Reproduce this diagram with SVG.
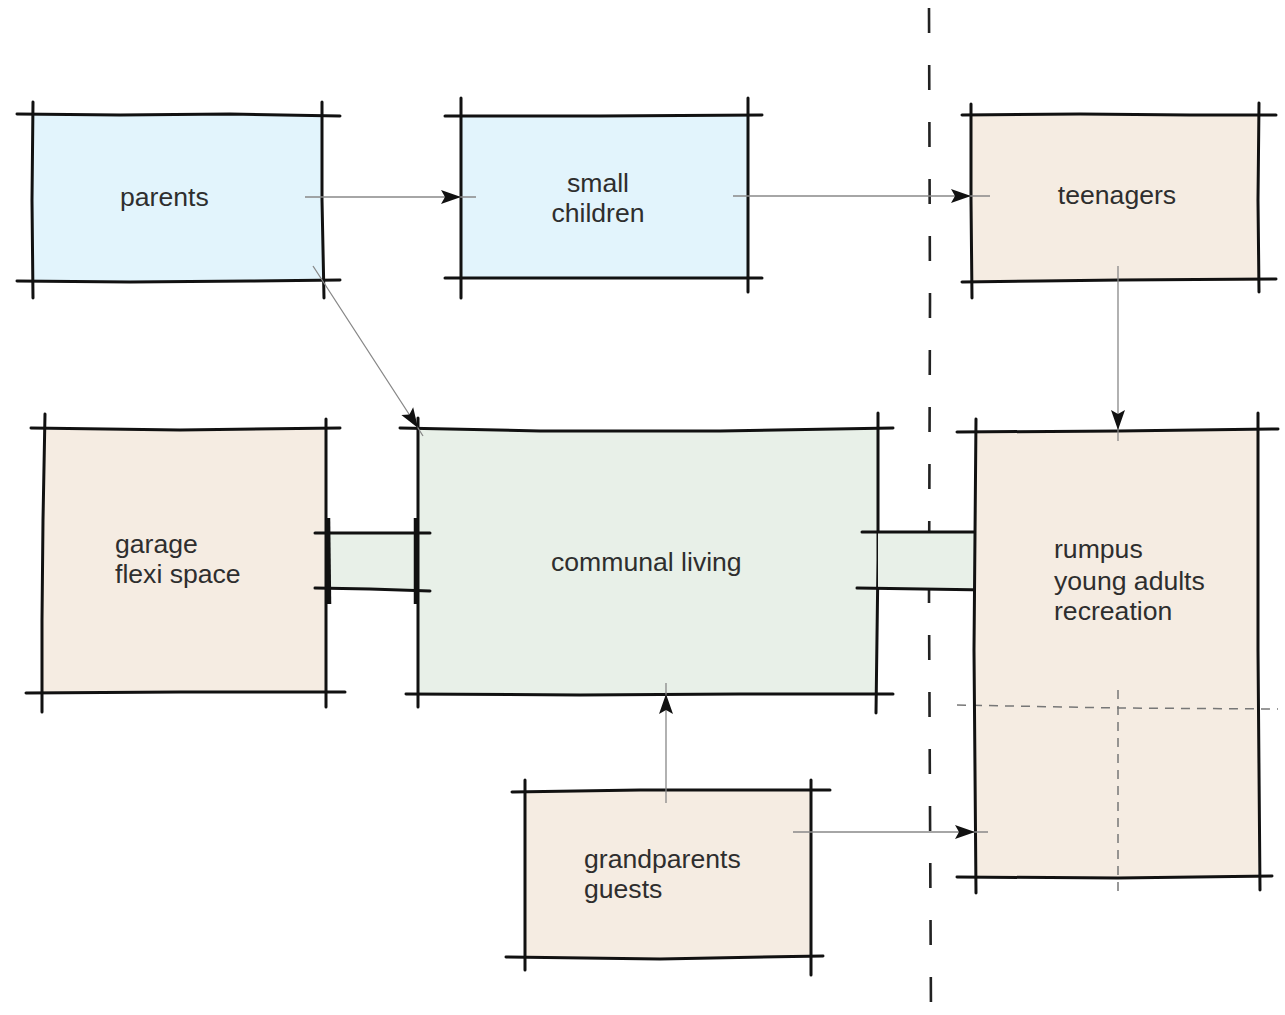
<svg xmlns="http://www.w3.org/2000/svg" width="1285" height="1015" viewBox="0 0 1285 1015">
<style>
  .edge{stroke:#111;stroke-width:3;fill:none;stroke-linecap:round;stroke-linejoin:round}
  .thick{stroke:#111;stroke-width:4.5;fill:none;stroke-linecap:butt}
  .blue{fill:#e2f4fc}
  .beige{fill:#f5ece2}
  .green{fill:#e8f0e8}
  .lbl{font-family:"Liberation Sans",Arial,sans-serif;font-size:26.6px;fill:#2e2e2e}
  .conn{stroke:#888;stroke-width:1.3;fill:none}
  .divider{stroke:#222;stroke-width:2.6;stroke-dasharray:25 32;fill:none}
  .grid{stroke:#777;stroke-width:1.5;stroke-dasharray:9 7;fill:none}
</style>
<defs>
  <marker id="arr" markerUnits="userSpaceOnUse" markerWidth="26" markerHeight="18" viewBox="-22 -9 24 18" refX="0" refY="0" orient="auto">
    <path d="M-20,-7 L0,0 L-20,7 L-16,0 Z" fill="#111"/>
  </marker>
</defs>
<rect width="1285" height="1015" fill="#fff"/>

<g id="divider">
  <path class="divider" d="M929,8 L930,300 L929,600 L931,1015"/>
</g>

<g id="parents">
  <rect class="blue" x="33" y="115" width="289" height="166"/>
  <path class="edge" d="M17,114 L120,115 L230,114 L340,116"/>
  <path class="edge" d="M17,281 L130,282 L250,281 L340,280"/>
  <path class="edge" d="M33,102 L32,200 L33,298"/>
  <path class="edge" d="M322,102 L322,200 L324,298"/>
  <text class="lbl" x="120" y="206">parents</text>
</g>

<g id="small_children">
  <rect class="blue" x="461" y="115" width="287" height="163"/>
  <path class="edge" d="M445,116 L600,116 L762,115"/>
  <path class="edge" d="M445,278 L600,278 L762,278"/>
  <path class="edge" d="M461,98 L461,200 L461,298"/>
  <path class="edge" d="M748,98 L748,200 L748,292"/>
  <text class="lbl" x="598" y="192" text-anchor="middle">small</text>
  <text class="lbl" x="598" y="222" text-anchor="middle">children</text>
</g>

<g id="teenagers">
  <rect class="beige" x="971" y="115" width="287" height="166"/>
  <path class="edge" d="M962,115 L1080,114 L1190,115 L1276,115"/>
  <path class="edge" d="M962,282 L1040,281 L1120,280 L1276,279"/>
  <path class="edge" d="M971,104 L971,200 L972,298"/>
  <path class="edge" d="M1259,103 L1258,200 L1259,292"/>
  <text class="lbl" x="1117" y="204" text-anchor="middle">teenagers</text>
</g>

<g id="garage">
  <rect class="beige" x="43" y="430" width="283" height="262"/>
  <path class="edge" d="M31,428 L180,430 L340,428"/>
  <path class="edge" d="M26,693 L180,692 L345,692"/>
  <path class="edge" d="M45,414 L43,520 L42,620 L42,712"/>
  <path class="edge" d="M326,419 L326,560 L326,707"/>
  <text class="lbl" x="115" y="553">garage</text>
  <text class="lbl" x="115" y="583">flexi space</text>
</g>

<g id="communal_living">
  <rect class="green" x="418" y="430" width="460" height="264"/>
  <path class="edge" d="M400,428 L540,431 L720,431 L893,428"/>
  <path class="edge" d="M406,694 L580,695 L740,694 L893,694"/>
  <path class="edge" d="M418,418 L418,560 L418,707"/>
  <path class="edge" d="M878,413 L878,560 L876,713"/>
  <text class="lbl" x="551" y="571">communal living</text>
</g>

<g id="bridge_left">
  <rect class="green" x="327" y="533" width="90" height="56"/>
  <path class="edge" d="M315,533 L430,533"/>
  <path class="edge" d="M315,588 L370,589 L430,591"/>
  <path class="thick" d="M328,518 L329,604"/>
  <path class="thick" d="M416,518 L416,604"/>
</g>

<g id="bridge_right">
  <rect class="green" x="878" y="532" width="97" height="57"/>
  <path class="edge" d="M862,532 L988,532"/>
  <path class="edge" d="M857,588 L988,590"/>
</g>

<g id="rumpus">
  <rect class="beige" x="975" y="431" width="283" height="447"/>
  <path class="grid" d="M957,705 L1118,708 L1278,709"/>
  <path class="grid" d="M1118,690 L1118,893"/>
  <path class="edge" d="M957,432 L1118,431 L1278,429"/>
  <path class="edge" d="M957,877 L1118,878 L1272,876"/>
  <path class="edge" d="M976,419 L974,650 L976,893"/>
  <path class="edge" d="M1258,413 L1258,650 L1260,890"/>
  <text class="lbl" x="1054" y="558">rumpus</text>
  <text class="lbl" x="1054" y="590">young adults</text>
  <text class="lbl" x="1054" y="620">recreation</text>
</g>

<g id="grandparents">
  <rect class="beige" x="525" y="791" width="286" height="167"/>
  <path class="edge" d="M512,792 L640,790 L830,790"/>
  <path class="edge" d="M506,957 L660,959 L823,956"/>
  <path class="edge" d="M525,780 L525,880 L525,970"/>
  <path class="edge" d="M811,780 L811,880 L811,975"/>
  <text class="lbl" x="584" y="868">grandparents</text>
  <text class="lbl" x="584" y="898">guests</text>
</g>

<g id="connectors">
  <path class="conn" marker-mid="url(#arr)" d="M305,197 L461,197 L476,197"/>
  <path class="conn" marker-mid="url(#arr)" d="M733,196 L971,196 L990,196"/>
  <path class="conn" marker-mid="url(#arr)" d="M313,266 L418,428 L423,436"/>
  <path class="conn" marker-mid="url(#arr)" d="M1118,266 L1118,430 L1118,441"/>
  <path class="conn" marker-mid="url(#arr)" d="M666,803 L666,694 L666,683"/>
  <path class="conn" marker-mid="url(#arr)" d="M793,832 L975,832 L988,832"/>
</g>
</svg>
